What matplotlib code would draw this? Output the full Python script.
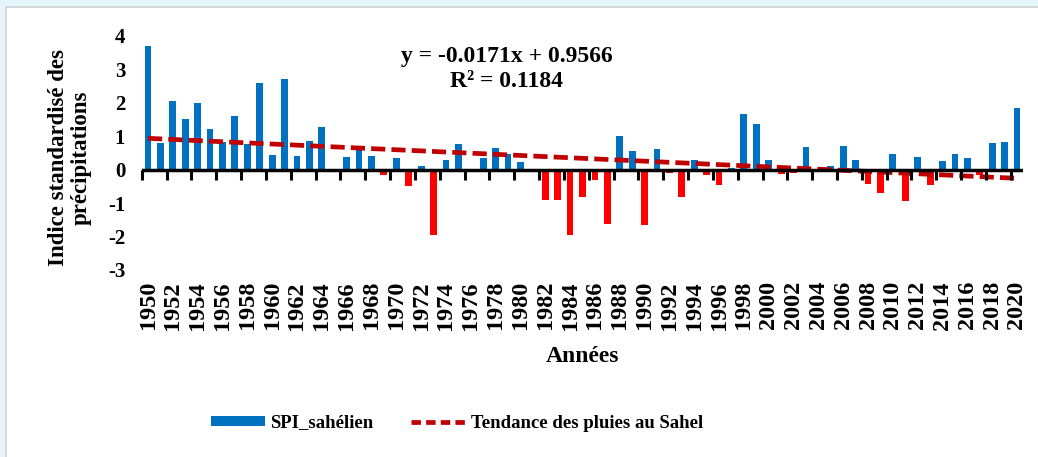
import numpy as np
import matplotlib
matplotlib.use("Agg")
import matplotlib.pyplot as plt
from matplotlib.patches import Rectangle, Patch
from matplotlib.lines import Line2D

plt.rcParams['font.family'] = ['Liberation Serif', 'DejaVu Serif']
plt.rcParams['font.weight'] = 'bold'

# SPI values, 1950-2020
years = list(range(1950, 2021))
spi = [3.70, 0.80, 2.06, 1.52, 2.01, 1.23, 0.82, 1.60, 0.78, 2.58,
       0.43, 2.71, 0.41, 0.86, 1.27, 0.02, 0.39, 0.59, 0.42, -0.17,
       0.36, -0.50, 0.12, -1.96, 0.28, 0.77, -0.08, 0.36, 0.66, 0.47,
       0.22, -0.02, -0.91, -0.91, -1.96, -0.82, -0.32, -1.63, 1.02, 0.56,
       -1.66, 0.63, -0.11, -0.82, 0.28, -0.17, -0.47, 0.05, 1.67, 1.37,
       0.30, -0.14, -0.10, 0.68, 0.03, 0.11, 0.72, 0.28, -0.44, -0.71,
       0.46, -0.94, 0.38, -0.47, 0.27, 0.48, 0.36, -0.17, 0.81, 0.84,
       1.85]
slope = -0.0171
intercept = 0.9566
r2 = 0.1184

blue = '#0070C0'
red = '#FF0000'
dark_red = '#C00000'

fig = plt.figure(figsize=(10.38, 4.57), dpi=100)
fig.patch.set_facecolor('#e4f4fb')
# white chart panel with thin grey border
fig.patches.append(Rectangle((6 / 1038, -0.01), 1.02, 1 - 7 / 457 + 0.01,
                             transform=fig.transFigure, facecolor='white',
                             edgecolor='#d0d0d0', linewidth=1.2, zorder=-5))

ax = fig.add_axes([141.8 / 1038, 1 - 270 / 457, (1023.2 - 141.8) / 1038, (270 - 36) / 457])
ax.set_facecolor('none')
ax.set_zorder(2)

x = np.arange(len(years))
colors = [blue if v >= 0 else red for v in spi]
ax.bar(x, spi, width=0.55, color=colors, zorder=2)

# linear trend y = a*k + b, k = 1..n
k = np.arange(1, len(years) + 1)
trend = slope * k + intercept
ax.plot(x, trend, color=dark_red, lw=3.4, dashes=(3.0, 1.3), zorder=3)

ax.set_xlim(-0.5, len(years) - 0.5)
ax.set_ylim(-3, 4)
ax.set_yticks(range(-3, 5))
ax.set_yticklabels([str(v) for v in range(-3, 5)], fontsize=15, fontweight='bold')
ax.tick_params(axis='y', length=0, pad=12)

ax.set_xticks(x[::2])
ax.set_xticklabels([str(y) for y in years[::2]], rotation=90, fontsize=17.5,
                   fontweight='bold', va='top')
ax.tick_params(axis='x', length=0, pad=8)

for s in ax.spines.values():
    s.set_visible(False)

# horizontal axis line at zero with tick marks between categories
ax.axhline(0, color='black', lw=2.5, zorder=4)
tx = np.arange(-0.5, len(years), 2)
ax.plot(tx, np.zeros(len(tx)), linestyle='none', marker=3, markersize=7,
        mew=2.2, color='black', clip_on=False, zorder=4)

fig.text(507 / 1038, 1 - 69 / 457, f"y = {slope}x + {intercept}\nR² = {r2}",
         ha='center', va='center', fontsize=17, fontweight='bold', linespacing=1.3)
fig.text(70 / 1038, 1 - 158 / 457, "Indice standardisé des\nprécipitations",
         rotation=90, ha='center', va='center', fontsize=16.5, fontweight='bold',
         linespacing=1.1)
fig.text(583 / 1038, 1 - 356 / 457, "Années", ha='center', va='center',
         fontsize=17, fontweight='bold')

handles = [Patch(facecolor=blue),
           Line2D([0], [0], color=dark_red, lw=3.4, dashes=(2.0, 1.1))]
fig.legend(handles, ["SPI_sahélien", "Tendance des pluies au Sahel"],
           loc='center', bbox_to_anchor=(457 / 1038, 1 - 423 / 457), ncol=2,
           frameon=False, prop={'size': 13.5, 'weight': 'bold'},
           handlelength=2.9, handleheight=0.5, handletextpad=0.3, columnspacing=2.0)

fig.savefig("out.png", dpi=100)
